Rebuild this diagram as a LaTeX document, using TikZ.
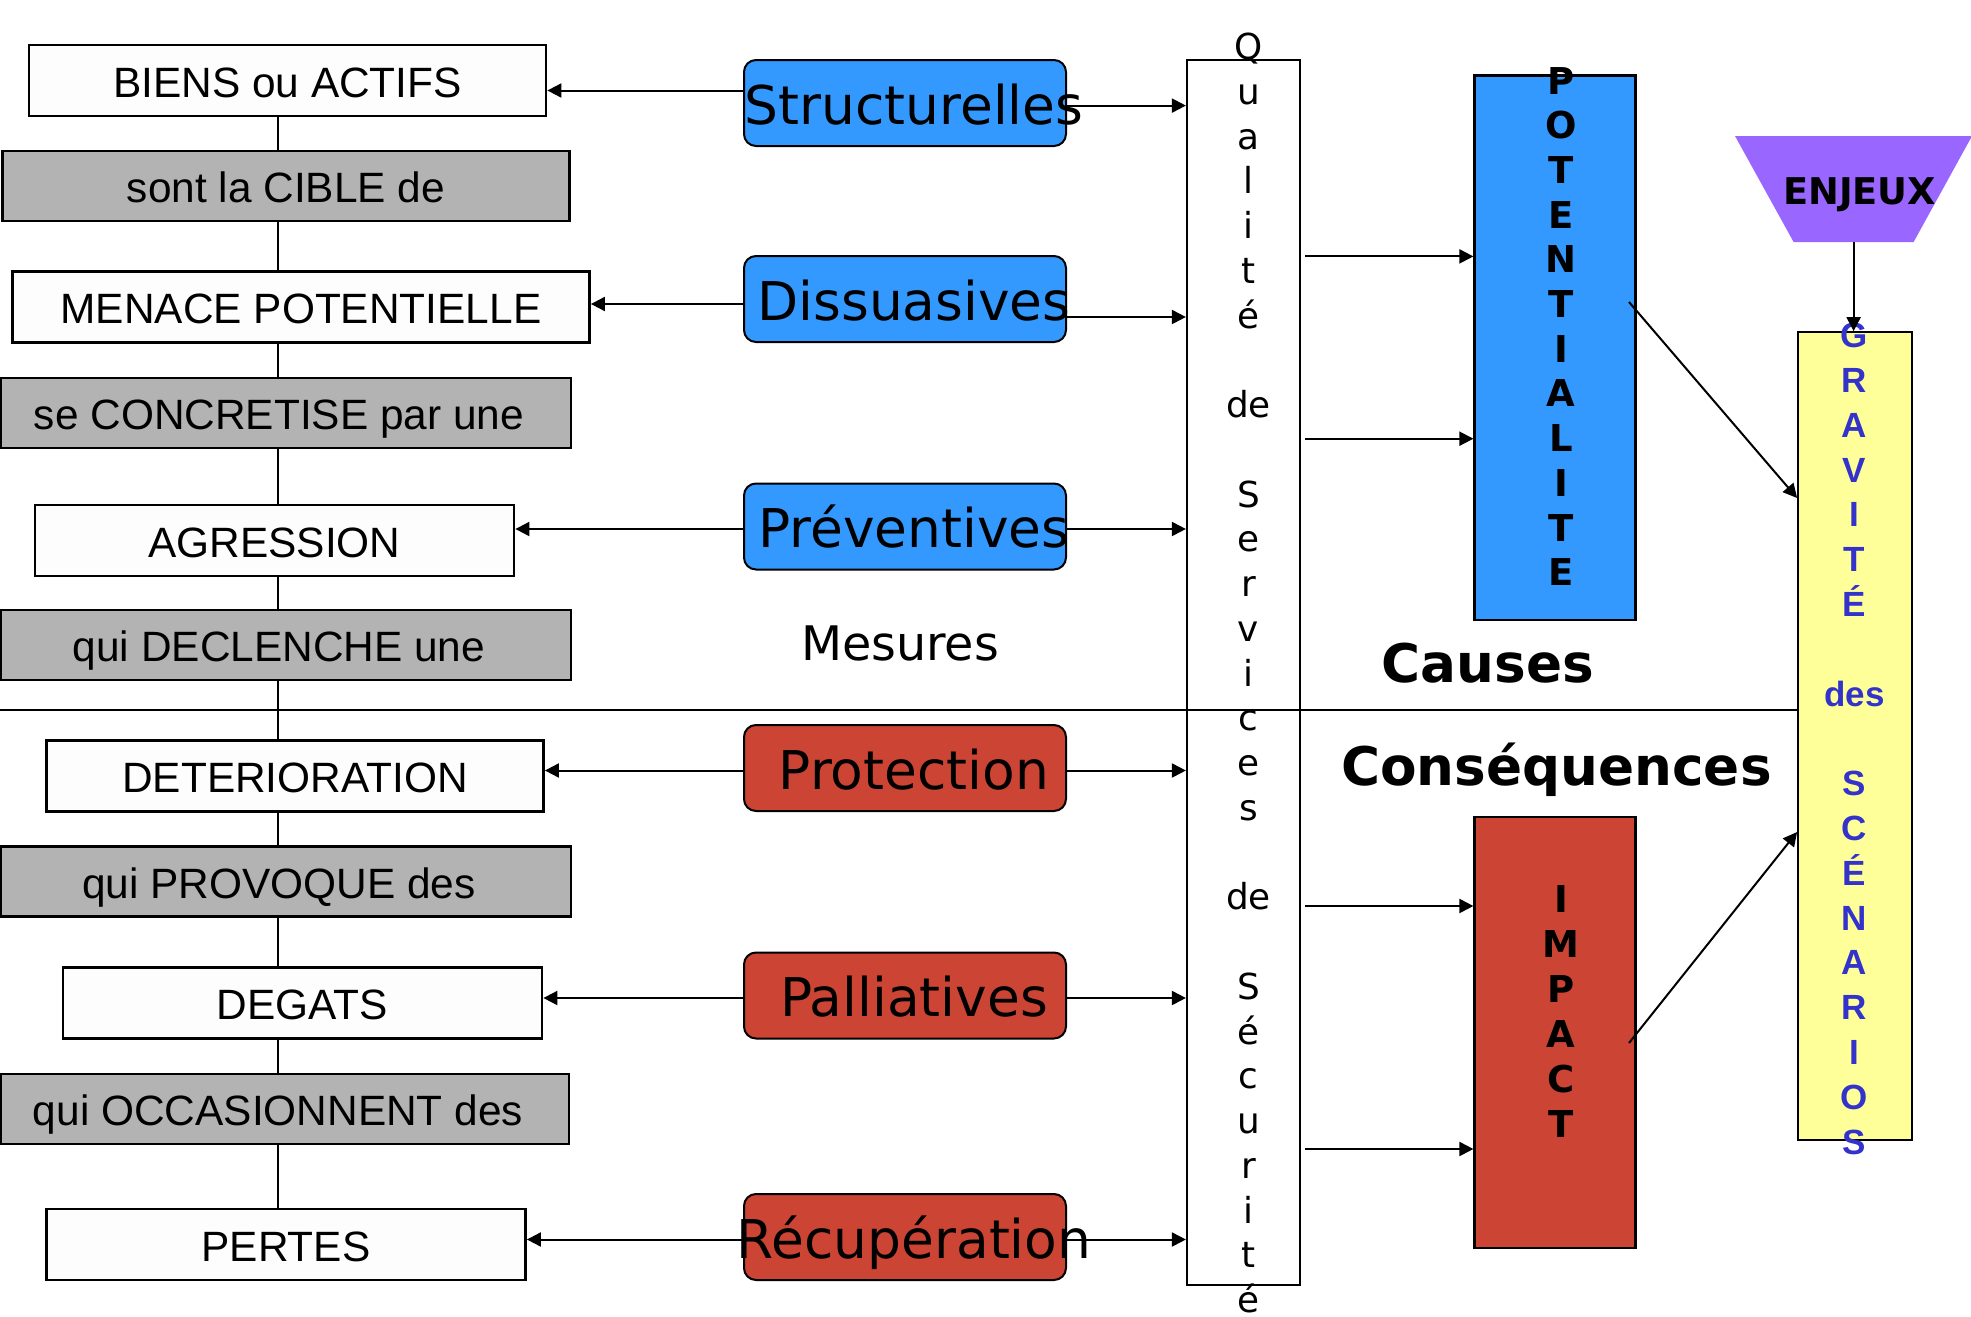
\documentclass[tikz,border=0pt]{standalone}
\usepackage{fontspec}
\setmainfont{Liberation Sans}
\newfontfamily\dejavu{DejaVu Sans}
\usetikzlibrary{arrows.meta,calc,backgrounds}
\definecolor{cellgray}{HTML}{B3B3B3}
\definecolor{paper}{HTML}{FDFDFD}
\definecolor{mblue}{HTML}{3399FF}
\definecolor{mred}{HTML}{CC4433}
\definecolor{enjeucol}{HTML}{9966FF}
\definecolor{pale}{HTML}{FFFF99}
\definecolor{inkblue}{HTML}{3333CC}
\begin{document}
\begin{tikzpicture}[x=0.5pt,y=-0.5pt,
  chainbox/.style={draw=black, line width=1.4pt, inner sep=0pt,
    minimum height=35.5pt, text height=16.5pt, text depth=0pt,
    font=\fontsize{21.2}{24}\selectfont},
  itembox/.style={chainbox, fill=paper},
  verbbox/.style={chainbox, fill=cellgray, minimum height=35pt},
  mesure/.style={draw=black, line width=1pt, rounded corners=6pt,
    minimum width=161pt, minimum height=43pt, inner sep=0pt,
    text height=21pt, text depth=0pt,
    font=\dejavu\fontsize{26.7}{30}\selectfont},
  preventive/.style={mesure, fill=mblue},
  curative/.style={mesure, fill=mred},
  spine/.style={line width=1.2pt},
  arr/.style={line width=1pt, -{Triangle[length=7pt,width=7pt]}},
  tallbox/.style={draw=black, line width=1.1pt, inner sep=0pt},
  qletter/.style={anchor=base, inner sep=0pt, font=\dejavu\fontsize{17.9}{20}\selectfont},
  bigletter/.style={anchor=base, inner sep=0pt, font=\dejavu\bfseries\fontsize{18.5}{20}\selectfont},
  gletter/.style={anchor=base, inner sep=0pt, text=inkblue, font=\bfseries\fontsize{17.5}{20}\selectfont},
  heading/.style={anchor=base, inner sep=0pt, font=\dejavu\bfseries\fontsize{26.6}{30}\selectfont},
]
\useasboundingbox (0,0) rectangle (1971,1317);

% chain of events, left column
\node[itembox, minimum width=258.5pt] (biens) at (287.5,80.5) {BIENS ou ACTIFS};
\node[verbbox, minimum width=283.5pt] (cible) at (286,186) {sont la CIBLE de};
\node[itembox, minimum width=288.5pt] (menace) at (301,307) {MENACE POTENTIELLE};
\node[verbbox, minimum width=285pt] (concret) at (286,413) {\makebox[0pt]{se CONCRETISE par une\hspace{7pt}}};
\node[itembox, minimum width=239.5pt] (agression) at (274.5,540.5) {AGRESSION};
\node[verbbox, minimum width=285pt] (declenche) at (286,645) {\makebox[0pt]{qui DECLENCHE une\hspace{7pt}}};
\node[itembox, minimum width=248.5pt] (deterio) at (295,776) {DETERIORATION};
\node[verbbox, minimum width=285pt] (provoque) at (286,881.5) {\makebox[0pt]{qui PROVOQUE des\hspace{7pt}}};
\node[itembox, minimum width=239.5pt] (degats) at (302.5,1003) {DEGATS};
\node[verbbox, minimum width=284pt] (occasion) at (285,1109) {\makebox[0pt]{qui OCCASIONNENT des\hspace{7pt}}};
\node[itembox, minimum width=239.5pt] (pertes) at (286,1244.5) {PERTES};

\coordinate (axis) at (278,0);
\foreach \a/\b in {biens/cible, cible/menace, menace/concret, concret/agression,
                   agression/declenche, declenche/deterio, deterio/provoque,
                   provoque/degats, degats/occasion, occasion/pertes}
  \draw[spine] (\a.south -| axis) -- (\b.north -| axis);

% security measures
\node[preventive] (m1) at (905,103) {\makebox[0pt]{\hspace{9pt}Structurelles}};
\node[preventive] (m2) at (905,299) {\makebox[0pt]{\hspace{9pt}Dissuasives}};
\node[preventive] (m3) at (905,526.5) {\makebox[0pt]{\hspace{9pt}Préventives}};
\node[curative] (m4) at (905,768) {\makebox[0pt]{\hspace{9pt}Protection}};
\node[curative] (m5) at (905,995.5) {\makebox[0pt]{\hspace{9pt}Palliatives}};
\node[curative] (m6) at (905,1237) {\makebox[0pt]{\hspace{9pt}Récupération}};
\node[anchor=base, inner sep=0pt, font=\dejavu\fontsize{23.8}{28}\selectfont] (mesures) at (900,660) {Mesures};

% quality of security services
\node[tallbox, minimum width=56.5pt, minimum height=612.5pt] (qbox) at (1243.5,672.5) {};
\foreach \i/\t in {0/Q,1/u,2/a,3/l,4/i,5/t,6/é,8/de,10/S,11/e,12/r,13/v,14/i,15/c,16/e,17/s,
                   19/de,21/S,22/é,23/c,24/u,25/r,26/i,27/t,28/é}
  \node[qletter] (q\i) at (1248.5,{59.5+44.75*\i}) {\t};

% potentiality and impact
\node[tallbox, fill=mblue, minimum width=80.5pt, minimum height=272.25pt] (pot) at (1555,347.75) {};
\foreach \i/\t in {0/P,1/O,2/T,3/E,4/N,5/T,6/I,7/A,8/L,9/I,10/T,11/E}
  \node[bigletter] (pl\i) at (1561,{94+44.7*\i}) {\t};
\node[tallbox, fill=mred, minimum width=80.5pt, minimum height=215.5pt] (impact) at (1555,1032.5) {};
\foreach \i/\t in {0/I,1/M,2/P,3/A,4/C,5/T}
  \node[bigletter] (il\i) at (1561,{912.5+45*\i}) {\t};

\node[heading] (causes) at (1488,682.7) {Causes};
\node[heading] (consequences) at (1556.5,785) {Conséquences};

% stakes and scenario severity
\fill[enjeucol] (1735,136) -- (1972,136) -- (1913.6,242) -- (1793.6,242) -- cycle;
\node[inner sep=0pt, minimum height=53pt, text height=15pt, text depth=0pt,
      font=\dejavu\bfseries\fontsize{18.4}{20}\selectfont] (enjeux) at (1853.6,189)
      {\makebox[0pt]{\hspace{6pt}ENJEUX}};
\node[tallbox, fill=pale, minimum width=56.8pt, minimum height=403.75pt] (grav) at (1855,736) {};
\foreach \i/\t in {0/G,1/R,2/A,3/V,4/I,5/T,6/É,8/des,10/S,11/C,12/É,13/N,14/A,15/R,16/I,17/O,18/S}
  \node[gletter] (gl\i) at (1854.5,{347.6+44.8*\i}) {\t};

\begin{pgfonlayer}{background}
  % causes / consequences separation
  \coordinate (split) at (0,710);
  \draw[line width=0.8pt] (split) -- (split -| grav.west);

  % measures act on the chain and on the services
  \foreach \m/\t/\dl/\dr in {m1/biens/-12.5/2.6, m2/menace/5/18, m3/agression/2.5/2.5,
                             m4/deterio/2.5/2.5, m5/degats/2.5/2.5, m6/pertes/2.5/2.5} {
    \coordinate (\m l) at ($(\m.west)+(0,\dl)$);
    \coordinate (\m r) at ($(\m.east)+(0,\dr)$);
    \draw[arr] (\m l) -- (\m l -| \t.east);
    \draw[arr] (\m r) -- (\m r -| qbox.west);
  }

  % services feed potentiality and impact
  \coordinate (s1) at (1305,256.4);
  \coordinate (s2) at (1305,438.7);
  \coordinate (s3) at (1305,906);
  \coordinate (s4) at (1305,1149);
  \draw[arr] (s1) -- (s1 -| pot.west);
  \draw[arr] (s2) -- (s2 -| pot.west);
  \draw[arr] (s3) -- (s3 -| impact.west);
  \draw[arr] (s4) -- (s4 -| impact.west);
\end{pgfonlayer}

% potentiality, impact and stakes define severity
\coordinate (pout) at (1629,302);
\coordinate (iout) at (1629,1043);
\coordinate (gin1) at (0,498);
\coordinate (gin2) at (0,832);
\draw[arr] (pout) -- (grav.west |- gin1);
\draw[arr] (iout) -- (grav.west |- gin2);
\draw[arr] (enjeux.south) -- (enjeux.south |- grav.north);
\end{tikzpicture}
\end{document}
